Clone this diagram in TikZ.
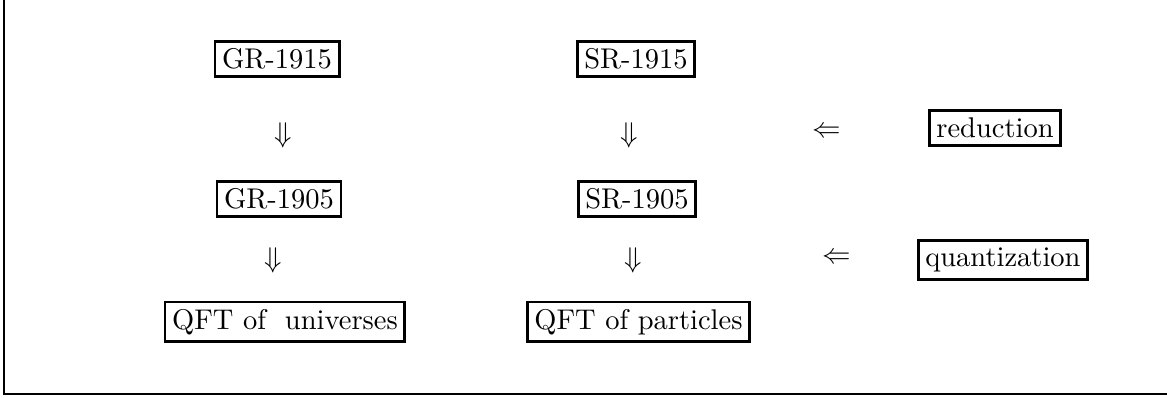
\documentclass[tikz,border=0pt]{standalone}
\usepackage{tikz}

\begin{document}
\begin{tikzpicture}[box/.style={draw, line width=1pt, inner sep=2.5pt}]
            \useasboundingbox (0,0) rectangle (14.39,4.907);

            % Draw the frame (left and bottom sides)
            \draw[line width=1pt] (0.049,4.907) -- (0.049,0.049) -- (14.39,0.049);

            % Top row
            \node[box] (gr15) at (3.416, 4.180) {GR-1915};
            \node[box] (sr15) at (7.842, 4.180) {SR-1915};

            \node (d1) at (3.490, 3.243) {$\Downarrow$};
            \node (d2) at (7.756, 3.243) {$\Downarrow$};
            \node (l1) at (10.197, 3.280) {$\Leftarrow$};
            \node[box] (red) at (12.269, 3.329) {reduction};

            % Middle row
            \node[box] (gr05) at (3.440, 2.454) {GR-1905};
            \node[box] (sr05) at (7.854, 2.454) {SR-1905};

            \node (d3) at (3.366, 1.702) {$\Downarrow$};
            \node (d4) at (7.805, 1.702) {$\Downarrow$};
            \node (l2) at (10.321, 1.726) {$\Leftarrow$};
            \node[box] (quant) at (12.367, 1.702) {quantization};

            % Bottom row
            \node[box] (qftu) at (3.514, 0.937) {QFT of~ universes};
            \node[box] (qftp) at (7.873, 0.937) {QFT of particles};

        \end{tikzpicture}
\end{document}
